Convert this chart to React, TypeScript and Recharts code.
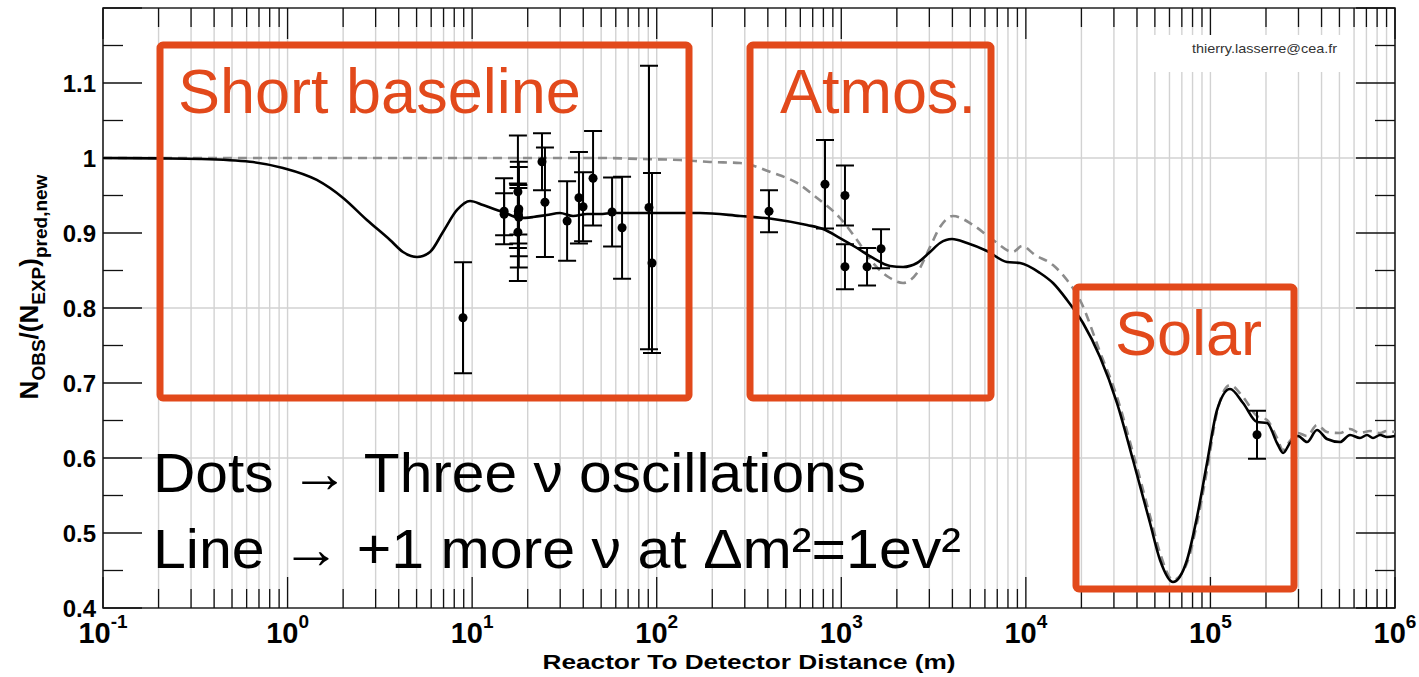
import React from "react";
import {
  ComposedChart,
  Line,
  Scatter,
  ErrorBar,
  XAxis,
  YAxis,
  CartesianGrid,
  ReferenceLine,
  ReferenceArea,
  Label,
} from "recharts";

const FONT = "'Liberation Sans', Arial, Helvetica, sans-serif";
const BOX_RED = "#E2491B";

// 3 active + 1 sterile neutrino (solid line), distance in m vs N_obs/N_exp
const sterileDist = [
  0.1, 0.2, 0.335, 0.626, 0.945, 1.44, 2.0, 2.69, 3.59, 4.22, 5.03, 5.91, 6.95, 8.28, 9.74,
  11.45, 13.6, 14.7, 18.2, 21.4, 25.4, 29.9, 35.2, 41.9, 49.3, 58.0, 104, 172, 283, 427, 652,
  796, 984, 1217, 1485, 1837, 2160, 2572, 3025, 3427, 3980, 4800, 6160, 7905, 9297, 11930,
  14030, 16710, 20400, 25220, 31180, 38070, 47070, 53330, 62700, 74670, 84580, 95830, 108600,
  127700, 150200, 178800, 202600, 229500, 247400, 269900, 298200, 333700, 378000, 428100,
  503600, 570600, 646200, 705400, 760100, 829600, 905000, 1000000,
];
const sterileRatio = [
  1.0, 0.9995, 0.9987, 0.995, 0.9867, 0.9707, 0.9467, 0.9173, 0.8907, 0.8747, 0.868, 0.8747,
  0.9013, 0.9307, 0.9427, 0.9373, 0.9307, 0.928, 0.92, 0.9213, 0.924, 0.9267, 0.9227, 0.9253,
  0.9253, 0.9267, 0.9267, 0.9267, 0.9227, 0.9187, 0.9107, 0.9053, 0.8933, 0.88, 0.8667, 0.856,
  0.8547, 0.86, 0.8747, 0.8867, 0.892, 0.8867, 0.876, 0.8613, 0.86, 0.8467, 0.8333, 0.8107,
  0.78, 0.7347, 0.6733, 0.5973, 0.5133, 0.464, 0.4347, 0.464, 0.5213, 0.5933, 0.664, 0.692,
  0.6733, 0.648, 0.6467, 0.62, 0.6067, 0.62, 0.6293, 0.6213, 0.6373, 0.6253, 0.6213, 0.6307,
  0.6267, 0.6307, 0.6267, 0.6307, 0.628, 0.6293,
];

// 3 neutrino oscillations only (grey dashed line)
const threeNuDist = [
  0.1, 49.3, 81.2, 134, 194, 283, 427, 576, 739, 984, 1217, 1485, 1837, 2160, 2572, 3025,
  3427, 4030, 5172, 6638, 8518, 9532, 11210, 14030, 16710, 19650, 25220, 31180, 38070, 47070,
  53330, 62700, 74670, 84580, 95830, 108600, 127700, 150200, 178800, 202600, 229500, 247400,
  269900, 298200, 333700, 378000, 428100, 503600, 570600, 646200, 732200, 829600, 905000,
  1000000,
];
const threeNuRatio = [
  1.0, 1.0, 0.9987, 0.9973, 0.9947, 0.9933, 0.98, 0.9667, 0.9467, 0.92, 0.8907, 0.86, 0.84,
  0.8333, 0.8467, 0.8813, 0.908, 0.9227, 0.9107, 0.8907, 0.8747, 0.8827, 0.8707, 0.8573,
  0.8373, 0.8107, 0.7413, 0.6813, 0.6067, 0.5227, 0.4733, 0.4373, 0.46, 0.5133, 0.584, 0.6613,
  0.6973, 0.6813, 0.656, 0.6507, 0.6267, 0.6107, 0.6227, 0.6333, 0.6293, 0.644, 0.6347, 0.6333,
  0.6387, 0.6333, 0.636, 0.6333, 0.636, 0.6347,
];

// reactor experiments (dots with error bars)
const expDist = [
  8.92, 14.9, 14.9, 17.7, 17.9, 17.9, 17.7, 17.8, 17.8, 23.9, 24.8, 32.7, 37.9, 39.9, 45.2,
  57.3, 64.9, 90.8, 94.3, 406, 816, 1047, 1047, 1379, 1642, 178800,
];
const expRatio = [
  0.787, 0.929, 0.925, 0.955, 0.932, 0.921, 0.901, 0.925, 0.929, 0.995, 0.941, 0.916, 0.947,
  0.935, 0.973, 0.928, 0.907, 0.934, 0.86, 0.929, 0.965, 0.95, 0.855, 0.855, 0.879, 0.631,
];
const expErr = [
  0.074, 0.044, 0.028, 0.075, 0.063, 0.067, 0.065, 0.039, 0.031, 0.038, 0.073, 0.053, 0.061,
  0.046, 0.063, 0.046, 0.068, 0.189, 0.12, 0.028, 0.059, 0.04, 0.03, 0.025, 0.026, 0.032,
];

const xDecades = [0.1, 1, 10, 100, 1000, 10000, 100000, 1000000];
const yLabels = [0.4, 0.5, 0.6, 0.7, 0.8, 0.9, 1, 1.1];
const yGrid = [0.6, 0.8, 1.0];

const sterileData = sterileDist.map((x, i) => ({ x, y: sterileRatio[i] }));
const threeNuData = threeNuDist.map((x, i) => ({ x, y: threeNuRatio[i] }));
const expData = expDist.map((x, i) => ({ x, y: expRatio[i], err: expErr[i] }));

const X_MIN = 0.1;
const X_MAX = 1e6;
const Y_MIN = 0.4;
const Y_MAX = 1.2;

// minor log ticks 2..9 in every decade
const xMinor: number[] = [];
xDecades.slice(0, -1).forEach((d) => {
  for (let k = 2; k <= 9; k++) xMinor.push(+(d * k).toPrecision(6));
});
const yMajor = [0.4, 0.5, 0.6, 0.7, 0.8, 0.9, 1.0, 1.1, 1.2];
const yMinor = [0.45, 0.55, 0.65, 0.75, 0.85, 0.95, 1.05, 1.15];

// pixel -> data unit conversions for tick mark lengths
const PX_PER_DECADE = 1292 / 7;
const PX_PER_UNIT = 600 / (Y_MAX - Y_MIN);
const yLen = (px: number) => px / PX_PER_UNIT;
const xFac = (px: number) => Math.pow(10, px / PX_PER_DECADE);

const DecadeTick = ({ x, y, payload }: any) => {
  const exp = Math.round(Math.log10(payload.value));
  return (
    <text x={x} y={y + 35} textAnchor="middle" fontFamily={FONT} fontWeight="bold" fontSize={29} fill="#000">
      10
      <tspan dy={-15} fontSize={19}>
        {exp}
      </tspan>
    </text>
  );
};

const RatioTick = ({ y, payload }: any) => (
  <text x={96} y={y} dy={8.5} textAnchor="end" fontFamily={FONT} fontWeight="bold" fontSize={24} fill="#000">
    {String(Math.round(payload.value * 10) / 10)}
  </text>
);

const XTitle = ({ viewBox }: any) => (
  <text
    x={viewBox.x + viewBox.width / 2}
    y={viewBox.y + 61}
    textAnchor="middle"
    fontFamily={FONT}
    fontWeight="bold"
    fontSize={21}
    textLength={413}
    lengthAdjust="spacingAndGlyphs"
    fill="#000"
  >
    Reactor To Detector Distance (m)
  </text>
);

const YTitle = () => (
  <text
    transform="rotate(-90)"
    x={-287}
    y={38}
    textAnchor="middle"
    fontFamily={FONT}
    fontWeight="bold"
    fontSize={26}
    fill="#000"
  >
    N
    <tspan fontSize={19} dy={7}>OBS</tspan>
    <tspan fontSize={26} dy={-7}>/(N</tspan>
    <tspan fontSize={19} dy={7}>EXP</tspan>
    <tspan fontSize={26} dy={-7}>)</tspan>
    <tspan fontSize={19} dy={9}>pred,new</tspan>
  </text>
);

const tickLines = () => {
  const out: React.ReactNode[] = [];
  const stroke = "#111";
  const push = (key: string, seg: any) =>
    out.push(<ReferenceLine key={key} segment={seg} stroke={stroke} strokeWidth={1.3} ifOverflow="visible" />);
  [...xDecades.map((v) => [v, 31] as const), ...xMinor.map((v) => [v, 19] as const)].forEach(([v, len], i) => {
    push(`xb${i}`, [{ x: v, y: Y_MIN }, { x: v, y: Y_MIN + yLen(len) }]);
    push(`xt${i}`, [{ x: v, y: Y_MAX }, { x: v, y: Y_MAX - yLen(len) }]);
  });
  [...yMajor.map((v) => [v, 39] as const), ...yMinor.map((v) => [v, 20] as const)].forEach(([v, len], i) => {
    push(`yl${i}`, [{ x: X_MIN, y: v }, { x: X_MIN * xFac(len), y: v }]);
    push(`yr${i}`, [{ x: X_MAX, y: v }, { x: X_MAX / xFac(len), y: v }]);
  });
  return out;
};

const Overlay = () => (
  <svg width={1419} height={677} style={{ position: "absolute", left: 0, top: 0, pointerEvents: "none" }}>
    <rect x={1142} y={35} width={210} height={37} fill="#fff" />
    <text x={1192} y={53} fontFamily={FONT} fontSize={13.5} fill="#333" textLength={145} lengthAdjust="spacingAndGlyphs">
      thierry.lasserre@cea.fr
    </text>
    <rect x={160} y={45} width={529} height={353} rx={3} fill="none" stroke={BOX_RED} strokeWidth={7} />
    <rect x={750} y={45} width={241} height={353} rx={3} fill="none" stroke={BOX_RED} strokeWidth={7} />
    <rect x={1076} y={287} width={218} height={302} rx={3} fill="none" stroke={BOX_RED} strokeWidth={7} />
    <text x={178} y={113} fontFamily={FONT} fontSize={63} fill={BOX_RED}>Short baseline</text>
    <text x={780} y={113} fontFamily={FONT} fontSize={63} fill={BOX_RED}>Atmos.</text>
    <text x={1115} y={355} fontFamily={FONT} fontSize={63} fill={BOX_RED}>Solar</text>
    <text x={153} y={492} fontFamily={FONT} fontSize={56} fill="#000" textLength={713} lengthAdjust="spacingAndGlyphs">
      Dots → Three ν oscillations
    </text>
    <text x={153} y={568} fontFamily={FONT} fontSize={56} fill="#000" textLength={808} lengthAdjust="spacingAndGlyphs">
      Line → +1 more ν at Δm²=1ev²
    </text>
    <YTitle />
  </svg>
);

export default function App() {
  return (
    <div style={{ position: "absolute", left: 0, top: 0, width: 1419, height: 677, background: "#fff" }}>
      <ComposedChart width={1419} height={677} margin={{ top: 8, right: 24, left: 0, bottom: 0 }}>
        <CartesianGrid
          verticalValues={[...xMinor, ...xDecades]}
          horizontalValues={yGrid}
          stroke="#d2d2d2"
          strokeWidth={1.4}
        />
        <XAxis
          dataKey="x"
          type="number"
          scale="log"
          domain={[X_MIN, X_MAX]}
          ticks={xDecades}
          interval={0}
          allowDataOverflow
          tickLine={false}
          axisLine={false}
          tickSize={0}
          tickMargin={0}
          height={69}
          tick={<DecadeTick />}
        >
          <Label content={<XTitle />} />
        </XAxis>
        <YAxis
          type="number"
          domain={[Y_MIN, Y_MAX]}
          ticks={yLabels}
          interval={0}
          allowDataOverflow
          tickLine={false}
          axisLine={false}
          tickSize={0}
          width={103}
          tick={<RatioTick />}
        />
        <ReferenceArea
          x1={X_MIN}
          x2={X_MAX}
          y1={Y_MIN}
          y2={Y_MAX}
          fill="none"
          stroke="#222"
          strokeWidth={1.6}
          ifOverflow="visible"
        />
        {tickLines()}
        <Line
          data={threeNuData}
          dataKey="y"
          type="monotone"
          dot={false}
          stroke="#8c8c8c"
          strokeWidth={2.6}
          strokeDasharray="9 6"
          isAnimationActive={false}
        />
        <Line
          data={sterileData}
          dataKey="y"
          type="monotone"
          dot={false}
          stroke="#000"
          strokeWidth={2.6}
          isAnimationActive={false}
        />
        <Scatter data={expData} dataKey="y" fill="#000" shape="circle" isAnimationActive={false}>
          <ErrorBar dataKey="err" direction="y" width={9} stroke="#000" strokeWidth={2} />
        </Scatter>
      </ComposedChart>
      <Overlay />
    </div>
  );
}
